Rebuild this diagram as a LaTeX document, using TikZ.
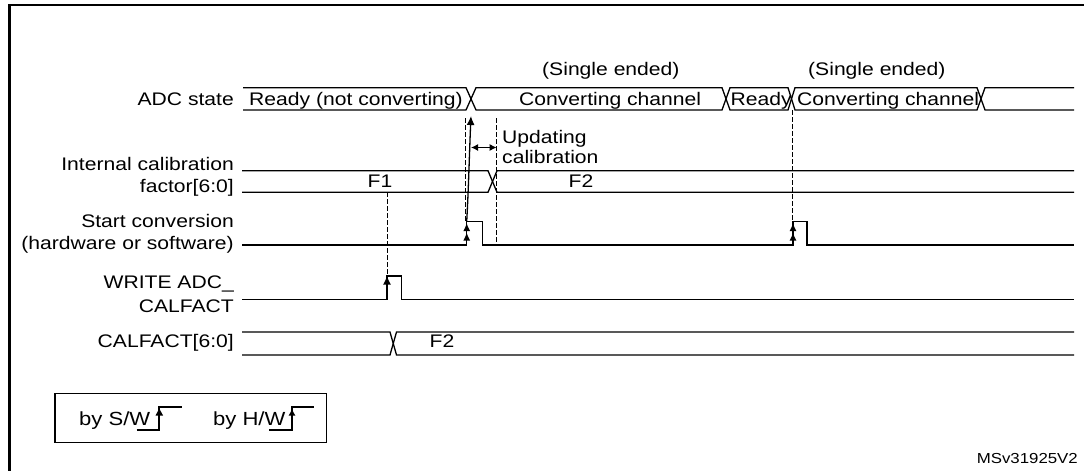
\documentclass[tikz,border=0pt]{standalone}
\usepackage{fontspec}
\setmainfont{Liberation Sans}[FakeStretch=1.16]
\usetikzlibrary{arrows.meta}
\begin{document}
\begin{tikzpicture}[x=1pt,y=-1pt,
  sig/.style={line width=1.3pt, black},
  lbl/.style={anchor=base east, inner sep=0pt, font=\fontsize{18.2}{21}\selectfont},
  txt/.style={anchor=base west, inner sep=0pt, font=\fontsize{18.2}{21}\selectfont},
  ctxt/.style={anchor=base, inner sep=0pt, font=\fontsize{18.2}{21}\selectfont},
  legtxt/.style={anchor=base west, inner sep=0pt, font=\fontsize{19}{22}\selectfont},
  guide/.style={line width=1.2pt, dash pattern=on 4.5pt off 2.5pt},
  hwtip/.style={-{Latex[length=8pt,width=7pt,sep=1.5pt] Latex[length=8pt,width=7pt,sep=1.5pt]}},
  onetip/.style={-{Latex[length=9pt,width=8pt]}},
  legline/.style={line width=1.8pt}]
\useasboundingbox (0,0) rectangle (1084,471);

% frame
\draw[line width=2.5pt] (9.5,471) -- (9.5,5) -- (1084,5);

% signal labels
\node[lbl] (lADC) at (234,105) {ADC state};
\node[lbl] (lIC1) at (234,170.7) {Internal calibration};
\node[lbl] (lIC2) at (234,192.3) {factor[6:0]};
\node[lbl] (lSC1) at (234,227.5) {Start conversion};
\node[lbl] (lSC2) at (234,249.5) {(hardware or software)};
\node[lbl] (lWR1) at (234,288.5) {WRITE ADC\_};
\node[lbl] (lWR2) at (234,312.5) {CALFACT};
\node[lbl] (lCF) at (234,347) {CALFACT[6:0]};

% ADC state bus
\draw[sig] (243,87.7) -- (466,87.7) -- (476,110) -- (722,110) -- (730,87.7) -- (788,87.7) -- (795,110) -- (977,110) -- (985,87.7) -- (1074,87.7);
\draw[sig] (243,110) -- (466,110) -- (476,87.7) -- (722,87.7) -- (730,110) -- (788,110) -- (795,87.7) -- (977,87.7) -- (985,110) -- (1074,110);
\node[txt] (sReady1) at (249,105) {Ready (not converting)};
\node[txt] (sConv1) at (519,105) {Converting channel};
\node[txt] (sReady2) at (730.5,105) {Ready};
\node[txt] (sConv2) at (797,105) {Converting channel};
\node[txt] (sSE1) at (542,75) {(Single ended)};
\node[txt] (sSE2) at (808,75) {(Single ended)};

% Internal calibration factor bus
\draw[sig] (242,170.7) -- (488,170.7) -- (497,192.3) -- (1074,192.3);
\draw[sig] (242,192.3) -- (488,192.3) -- (497,170.7) -- (1074,170.7);
\node[ctxt] (vF1) at (380,187) {F1};
\node[ctxt] (vF2a) at (581,187) {F2};

% Start conversion
\draw[sig] (242,245) -- (466.7,245) -- (466.7,221.5) -- (482.3,221.5) -- (482.3,245) -- (793,245) -- (793,221.5) -- (807,221.5) -- (807,245) -- (1074,245);
\coordinate (sc1b) at (466.7,245);
\coordinate (sc1t) at (466.7,221.5);
\coordinate (sc2b) at (793,245);
\coordinate (sc2t) at (793,221.5);
\draw[sig, hwtip] (sc1b) -- (sc1t);
\draw[sig, hwtip] (sc2b) -- (sc2t);

% WRITE ADC_CALFACT
\draw[sig] (242,299.5) -- (387,299.5) -- (387,276) -- (401.7,276) -- (401.7,299.5) -- (1074,299.5);
\coordinate (wrb) at (387,299.5);
\coordinate (wrt) at (387,275.5);
\draw[line width=2.6pt, onetip] (wrb) -- (wrt);

% CALFACT bus
\draw[sig] (242,332) -- (390,332) -- (396.5,355) -- (1074,355);
\draw[sig] (242,355) -- (390,355) -- (396.5,332) -- (1074,332);
\node[ctxt] (vF2b) at (442,347) {F2};

% guides
\coordinate (g1t) at (465.5,118);
\coordinate (g1b) at (465.5,221.5);
\coordinate (g2t) at (496.7,118);
\coordinate (g2b) at (496.7,245);
\coordinate (g3t) at (387.7,192.3);
\coordinate (g3b) at (387.7,276);
\coordinate (g4t) at (792.5,110);
\coordinate (g4b) at (792.5,221.5);
\draw[guide] (g1t) -- (g1b);
\draw[guide] (g2t) -- (g2b);
\draw[guide] (g3t) -- (g3b);
\draw[guide] (g4t) -- (g4b);

% causal curved arrow
\coordinate (cvT) at (471,116);
\draw[line width=1.3pt, onetip] (sc1t) .. controls (468.5,190) and (469.5,150) .. (cvT);

% updating calibration
\coordinate (ucL) at (471,147.5);
\coordinate (ucR) at (496.7,147.5);
\draw[line width=1.3pt, {Latex[length=7pt,width=7pt]}-{Latex[length=7pt,width=7pt]}] (ucL) -- (ucR);
\node[txt] (up1) at (502,143.5) {Updating};
\node[txt] (up2) at (502,163.5) {calibration};

% legend
\draw[line width=1.1pt] (55,393.3) rectangle (326.7,442.7);
\node[legtxt] (legSW) at (79,425) {by S/W};
\node[legtxt] (legHW) at (213,425) {by H/W};
\draw[legline] (136.7,430) -- (159.3,430) -- (159.3,407.3) -- (181.7,407.3);
\draw[legline, -{Triangle[open,length=7pt,width=7pt]}] (159.3,430) -- (159.3,408.5);
\draw[legline] (269,430) -- (292,430) -- (292,407.3) -- (314,407.3);
\draw[legline, -{Latex[length=7pt,width=7pt]}] (292,430) -- (292,408.5);

% id
\node[anchor=base east, inner sep=0pt, font=\fontsize{14.5}{16}\selectfont] (msid) at (1078,463) {MSv31925V2};
\end{tikzpicture}
\end{document}
